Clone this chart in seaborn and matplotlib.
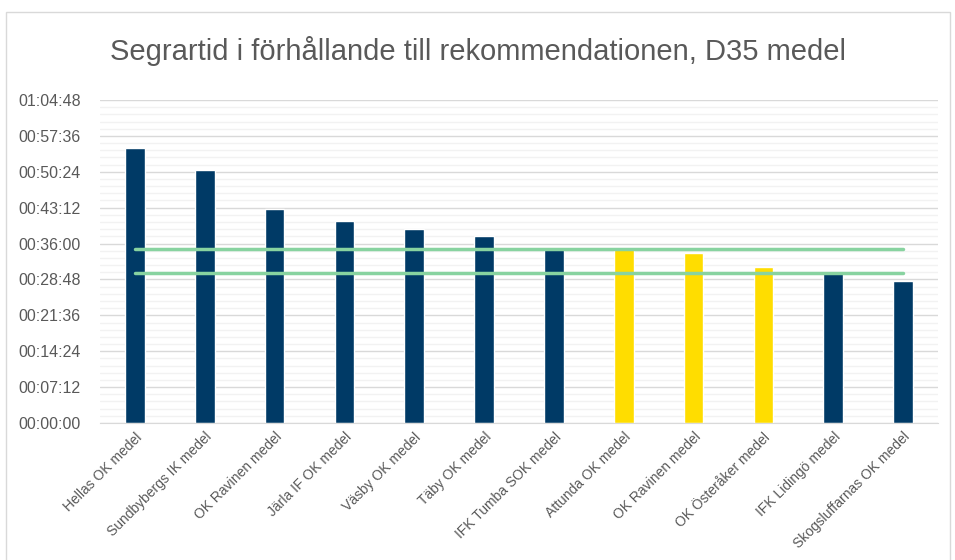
import numpy as np, pandas as pd
import matplotlib
matplotlib.use("Agg")
import matplotlib.pyplot as plt
import seaborn as sn
from matplotlib.ticker import FuncFormatter, MultipleLocator

# data: winning time (seconds) per club
clubs = ["Hellas OK medel", "Sundbybergs IK medel", "OK Ravinen medel", "Järla IF OK medel",
         "Väsby OK medel", "Täby OK medel", "IFK Tumba SOK medel", "Attunda OK medel",
         "OK Ravinen medel", "OK Österåker medel", "IFK Lidingö medel", "Skogsluffarnas OK medel"]
times = [3309, 3045, 2575, 2431, 2335, 2250, 2090, 2095, 2050, 1877, 1801, 1709]
group = ["blue"] * 7 + ["yellow"] * 3 + ["blue"] * 2
# recommended winning time span
rec_low = 1800
rec_high = 2100

def hms(s, pos=None):
    s = int(round(s))
    return "%02d:%02d:%02d" % (s // 3600, (s % 3600) // 60, s % 60)

sn.set_style("white")
plt.rcParams['font.family'] = ['Liberation Sans', 'DejaVu Sans']

df = pd.DataFrame({"pos": np.arange(len(clubs)), "t": times, "g": group})

fig = plt.figure(figsize=(9.55, 5.6), dpi=100)
ax = fig.add_axes([100/955, 1-423/560, (938-100)/955, (423-100)/560])

sn.barplot(data=df, x="pos", y="t", hue="g", palette={"blue": "#003A66", "yellow": "#FFDD00"},
           dodge=False, width=0.28, legend=False, ax=ax, saturation=1)

ax.plot([0, len(clubs)-1], [rec_high, rec_high], color="#88D3A0", lw=2.5, zorder=3)
ax.plot([0, len(clubs)-1], [rec_low, rec_low], color="#88D3A0", lw=2.5, zorder=3)

ax.set_ylim(0, 3888)
ax.set_xlim(-0.5, len(clubs)-0.5)
ax.yaxis.set_major_locator(MultipleLocator(432))
ax.yaxis.set_minor_locator(MultipleLocator(86.4))
ax.yaxis.set_major_formatter(FuncFormatter(hms))
ax.grid(which="major", axis="y", color="#D9D9D9", lw=1)
ax.grid(which="minor", axis="y", color="#F2F2F2", lw=1)
ax.set_axisbelow(True)

ax.set_xticks(np.arange(len(clubs)))
ax.set_xticklabels(clubs, rotation=45, ha="right", rotation_mode="anchor", fontsize=10, color="#595959")
ax.set_xticks(np.arange(-0.5, len(clubs)), minor=True)
ax.tick_params(axis="x", which="major", length=0, pad=5)
ax.tick_params(axis="x", which="minor", length=5, color="#D9D9D9")
ax.tick_params(axis="y", which="both", length=0, labelsize=11.5, labelcolor="#595959", pad=14)
ax.set_xlabel("")
ax.set_ylabel("")
for sp in ["top", "right", "left"]:
    ax.spines[sp].set_visible(False)
ax.spines["bottom"].set_color("#D9D9D9")

fig.text(0.5, 1-51/560, "Segrartid i förhållande till rekommendationen, D35 medel",
         ha="center", va="center", fontsize=21, color="#595959")
fig.add_artist(plt.Rectangle((6/955, -0.01), 944/955, 1-12/560+0.01, transform=fig.transFigure,
                             fill=False, edgecolor="#D9D9D9", lw=1))

fig.savefig("out.png", dpi=100)
